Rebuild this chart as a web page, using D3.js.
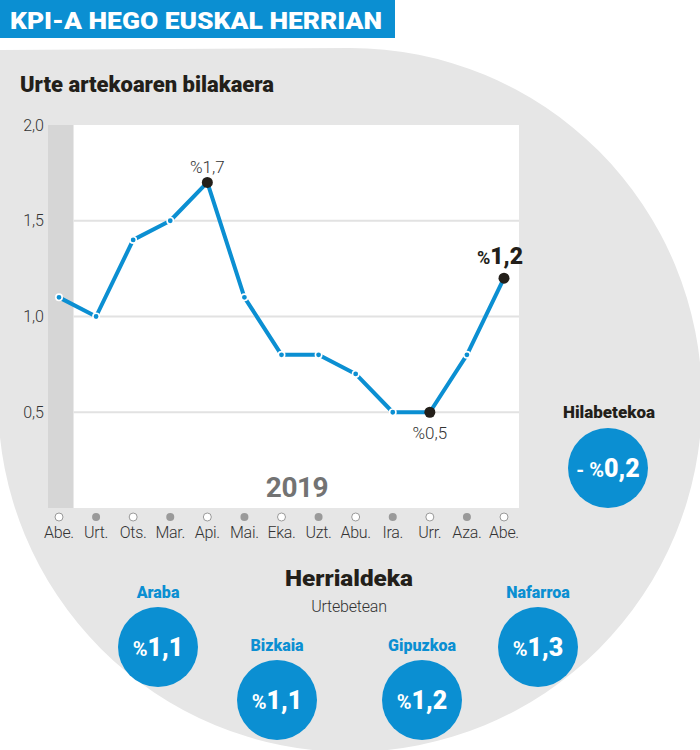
<!DOCTYPE html>
<html><head><meta charset="utf-8">
<script src="https://cdn.jsdelivr.net/npm/d3@7"></script>
<style>
html,body{margin:0;padding:0;background:#fff;}
svg{display:block;}
</style></head>
<body>
<svg id="c" width="700" height="750"></svg>
<script>
// ---- data ----
const months = ["Abe.","Urt.","Ots.","Mar.","Api.","Mai.","Eka.","Uzt.","Abu.","Ira.","Urr.","Aza.","Abe."];
const values = [1.1,1.0,1.4,1.5,1.7,1.1,0.8,0.8,0.7,0.5,0.5,0.8,1.2];
const highlighted = [4,10,12];
const yTicks = [0.5,1.0,1.5,2.0];
const regions = ["Araba","Bizkaia","Gipuzkoa","Nafarroa"];
const regionValues = [1.1,1.1,1.2,1.3];
const monthlyChange = -0.2;
const yearLabel = "2019";

const BLUE = "#0b8fd2", DARK = "#231f1a";
const svg = d3.select("#c");
const fmt = v => d3.format(".1f")(Math.abs(v)).replace(".", ",");

// background shape (rect + big circle)
const cx = 350, cy = 400, R = 352;
svg.append("path")
  .attr("d", `M0,${cy-R+2} L${cx},${cy-R} A${R},${R} 0 1 1 ${cx-R},${cy} L0,${cy} Z`)
  .attr("fill", "#e6e6e6");

// title bar
svg.append("rect").attr("x",0).attr("y",0).attr("width",395).attr("height",38).attr("fill",BLUE);
svg.append("text").attr("x",10).attr("y",29)
  .attr("font-family","Roboto").attr("font-weight",900).attr("font-size",24)
  .attr("fill","#fff").attr("textLength",372).attr("lengthAdjust","spacingAndGlyphs")
  .text("KPI-A HEGO EUSKAL HERRIAN");

svg.append("text").attr("x",20).attr("y",92)
  .attr("font-family","Roboto").attr("font-weight",900).attr("font-size",22)
  .attr("fill",DARK).attr("textLength",254).attr("lengthAdjust","spacingAndGlyphs")
  .text("Urte artekoaren bilakaera");

// scales
const x = d3.scaleLinear().domain([0, months.length-1]).range([59, 504]);
const y = d3.scaleLinear().domain([0, 2]).range([508, 125]);

// plot area
const plotL = 48, plotR = 519;
svg.append("rect").attr("x",plotL).attr("y",y(2)).attr("width",plotR-plotL).attr("height",y(0)-y(2)).attr("fill","#fff");
const step = x(1)-x(0);
const bandEnd = x(0)+step/2-4;
svg.append("rect").attr("x",plotL).attr("y",y(2)).attr("width",bandEnd-plotL).attr("height",y(0)-y(2)).attr("fill","#d6d6d6");

// gridlines
svg.append("g").selectAll("line").data(yTicks.filter(t=>t<2)).join("line")
  .attr("x1",bandEnd).attr("x2",plotR).attr("y1",d=>y(d)).attr("y2",d=>y(d))
  .attr("stroke","#e2e2e2").attr("stroke-width",2);

// y axis
const yAxis = d3.axisLeft(y).tickValues(yTicks).tickSize(0).tickPadding(0).tickFormat(d=>d3.format(".1f")(d).replace(".",","));
const gy = svg.append("g").attr("transform",`translate(44,0)`).call(yAxis);
gy.select(".domain").remove();
gy.selectAll("text").attr("font-family","Roboto").attr("font-weight",300).attr("font-size",16).attr("fill","#333");

// year label
svg.append("text").attr("x",297).attr("y",497).attr("text-anchor","middle")
  .attr("font-family","Roboto").attr("font-weight",700).attr("font-size",28).attr("letter-spacing","-0.5")
  .attr("fill","#737373").text(yearLabel);

// x axis ticks (dots) + labels
const gx = svg.append("g");
gx.selectAll("circle").data(months).join("circle")
  .attr("cx",(d,i)=>x(i)).attr("cy",517).attr("r",4)
  .attr("fill",(d,i)=>i%2? "#9a9a9a":"#fff")
  .attr("stroke",(d,i)=>i%2? "none":"#9a9a9a").attr("stroke-width",1);
gx.selectAll("text").data(months).join("text")
  .attr("x",(d,i)=>x(i)).attr("y",538).attr("text-anchor","middle")
  .attr("font-family","Roboto").attr("font-weight",300).attr("font-size",16).attr("letter-spacing","-0.3")
  .attr("fill","#333").text(d=>d);

// line
const line = d3.line().x((d,i)=>x(i)).y(d=>y(d));
svg.append("path").datum(values).attr("d",line).attr("fill","none")
  .attr("stroke",BLUE).attr("stroke-width",4).attr("stroke-linejoin","round");

// points
svg.append("g").selectAll("circle").data(values.map((v,i)=>({v,i})).filter(d=>!highlighted.includes(d.i))).join("circle")
  .attr("cx",d=>x(d.i)).attr("cy",d=>y(d.v)).attr("r",3.2)
  .attr("fill",BLUE).attr("stroke","#fff").attr("stroke-width",1.6);
svg.append("g").selectAll("circle").data(highlighted).join("circle")
  .attr("cx",i=>x(i)).attr("cy",i=>y(values[i])).attr("r",5.5).attr("fill",DARK);

// point labels
const lab = svg.append("g").attr("font-family","Roboto").attr("fill",DARK).attr("text-anchor","middle");
lab.append("text").attr("x",x(4)).attr("y",y(values[4])-9).attr("font-weight",300).attr("font-size",17)
  .attr("fill","#333").text("%"+fmt(values[4]));
lab.append("text").attr("x",x(10)).attr("y",y(values[10])+27).attr("font-weight",300).attr("font-size",17)
  .attr("fill","#333").text("%"+fmt(values[10]));
const t12 = lab.append("text").attr("x",x(12)-4).attr("y",y(values[12])-14);
t12.append("tspan").attr("font-weight",700).attr("font-size",18).text("%");
t12.append("tspan").attr("font-weight",900).attr("font-size",23).text(fmt(values[12]));

// monthly
svg.append("text").attr("x",609).attr("y",418).attr("text-anchor","middle")
  .attr("font-family","Roboto").attr("font-weight",900).attr("font-size",16)
  .attr("fill",DARK).attr("textLength",92).attr("lengthAdjust","spacingAndGlyphs").text("Hilabetekoa");
svg.append("circle").attr("cx",608).attr("cy",468).attr("r",40).attr("fill",BLUE);
const tm = svg.append("text").attr("x",608).attr("y",477).attr("text-anchor","middle")
  .attr("font-family","Roboto").attr("fill","#fff");
tm.append("tspan").attr("font-weight",700).attr("font-size",20).text((monthlyChange<0?"- ":"")+"%");
tm.append("tspan").attr("font-weight",900).attr("font-size",25).text(fmt(monthlyChange));

// regions
svg.append("text").attr("x",349).attr("y",586).attr("text-anchor","middle")
  .attr("font-family","Roboto").attr("font-weight",900).attr("font-size",22)
  .attr("fill",DARK).attr("textLength",128).attr("lengthAdjust","spacingAndGlyphs").text("Herrialdeka");
svg.append("text").attr("x",349).attr("y",612).attr("text-anchor","middle")
  .attr("font-family","Roboto").attr("font-weight",300).attr("font-size",16).attr("letter-spacing","-0.2")
  .attr("fill","#333").text("Urtebetean");

const rx = d3.scaleOrdinal().domain(regions).range([158, 277, 422, 538]);
const ry = d3.scaleOrdinal().domain(regions).range([647, 700, 700, 647]);
const rg = svg.append("g").selectAll("g").data(regions).join("g")
  .attr("transform", d=>`translate(${rx(d)},${ry(d)})`);
rg.append("text").attr("y",-49).attr("text-anchor","middle")
  .attr("font-family","Roboto").attr("font-weight",900).attr("font-size",16)
  .attr("fill",BLUE).text(d=>d);
rg.append("circle").attr("r",40).attr("fill",BLUE);
const rt = rg.append("text").attr("y",9).attr("text-anchor","middle").attr("font-family","Roboto").attr("fill","#fff");
rt.append("tspan").attr("font-weight",700).attr("font-size",20).text("%");
rt.append("tspan").attr("font-weight",900).attr("font-size",25).text((d,i)=>fmt(regionValues[i]));
</script>
</body></html>
